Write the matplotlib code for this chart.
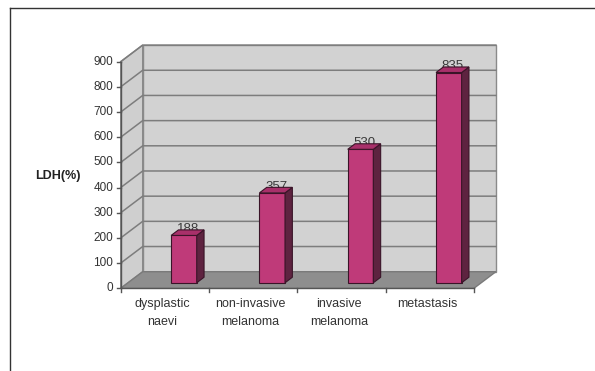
import matplotlib.pyplot as plt
from matplotlib.patches import Polygon
from matplotlib.lines import Line2D

plt.rcParams['font.family'] = ['Liberation Sans', 'DejaVu Sans']

categories = ['dysplastic\nnaevi', 'non-invasive\nmelanoma', 'invasive\nmelanoma', 'metastasis']
ldh_values = [188, 357, 530, 835]
value_labels = ['188', '357', '530', '835']
y_ticks = [0, 100, 200, 300, 400, 500, 600, 700, 800, 900]

# oblique 3D projection: depth z in [0, 1] shifts points right and up
DX, DY = 0.249, 65.9
YMAX = 900
NCAT = len(categories)


def proj(x, y, z):
    return (x + z * DX, y + z * DY)


fig = plt.figure(figsize=(5.95, 3.71), dpi=100)
ax = fig.add_axes([0, 0, 1, 1])
ax.axis('off')
# front plane: category unit = 88.3 px, value unit = 0.2518 px
ax.set_xlim(-120.7 / 88.3, (595 - 120.7) / 88.3)
ax.set_ylim(-(371 - 288.3) / 0.2518, 288.3 / 0.2518)

wall = '#d2d2d2'
edge = '#8a8a8a'

# back wall
ax.add_patch(Polygon([proj(0, 0, 1), proj(NCAT, 0, 1), proj(NCAT, YMAX, 1), proj(0, YMAX, 1)],
                     closed=True, facecolor=wall, edgecolor=edge, lw=1, zorder=1))
# side wall
ax.add_patch(Polygon([proj(0, 0, 0), proj(0, 0, 1), proj(0, YMAX, 1), proj(0, YMAX, 0)],
                     closed=True, facecolor='#cfcfcf', edgecolor=edge, lw=1, zorder=1))
# floor
ax.add_patch(Polygon([proj(0, 0, 0), proj(NCAT, 0, 0), proj(NCAT, 0, 1), proj(0, 0, 1)],
                     closed=True, facecolor='#8e8e8e', edgecolor='#7a7a7a', lw=1, zorder=2))

# gridlines on both walls
for v in y_ticks[1:]:
    xs, ys = zip(proj(0, v, 0), proj(0, v, 1), proj(NCAT, v, 1))
    ax.plot(xs, ys, color='#7d7d7d', lw=1.1, zorder=2)

# axis lines and ticks
ax.plot([0, 0], [0, YMAX], color='#555555', lw=1, zorder=3)
ax.plot([0, NCAT], [0, 0], color='#555555', lw=1, zorder=3)
for v in y_ticks:
    ax.plot([-0.045, 0], [v, v], color='#555555', lw=1, zorder=3)
    ax.text(-0.085, v, str(v), ha='right', va='center', fontsize=8.5, color='#333333')
for i in range(NCAT + 1):
    ax.plot([i, i], [0, -16], color='#555555', lw=1, zorder=3)

# bars as prisms, sitting in the middle third of the depth
bar_w = 0.29
z0, z1 = 1 / 3, 2 / 3
for i, (v, lab) in enumerate(zip(ldh_values, value_labels)):
    x0 = i + 0.633 - bar_w / 2
    x1 = x0 + bar_w
    # label sits behind the top face, its lower edge hidden by the bar
    tx, ty = proj((x0 + x1) / 2, v, z1)
    ax.text(tx - 0.04, ty - 9, lab, ha='center', va='baseline', fontsize=9.5,
            color='#3a3a3a', zorder=4)
    front = [proj(x0, 0, z0), proj(x1, 0, z0), proj(x1, v, z0), proj(x0, v, z0)]
    side = [proj(x1, 0, z0), proj(x1, 0, z1), proj(x1, v, z1), proj(x1, v, z0)]
    top = [proj(x0, v, z0), proj(x1, v, z0), proj(x1, v, z1), proj(x0, v, z1)]
    for pts, fc in ((front, '#bf3a79'), (side, '#5e2340'), (top, '#a8306a')):
        ax.add_patch(Polygon(pts, closed=True, facecolor=fc, edgecolor='#3a1428',
                             lw=0.8, zorder=5))

# category labels
for i, c in enumerate(categories):
    ax.text(i + 0.47, -40, c, ha='center', va='top', fontsize=9, color='#333333',
            linespacing=1.65)

ax.text(-0.71, 447, 'LDH(%)', ha='center', va='center', fontsize=9, fontweight='bold',
        color='#222222')

# outer frame (top and left edges)
fig.add_artist(Line2D([10 / 595, 1], [1 - 8 / 371, 1 - 8 / 371], color='#333333', lw=1))
fig.add_artist(Line2D([10 / 595, 10 / 595], [0, 1 - 8 / 371], color='#333333', lw=1))

fig.savefig('out.png', dpi=100)
